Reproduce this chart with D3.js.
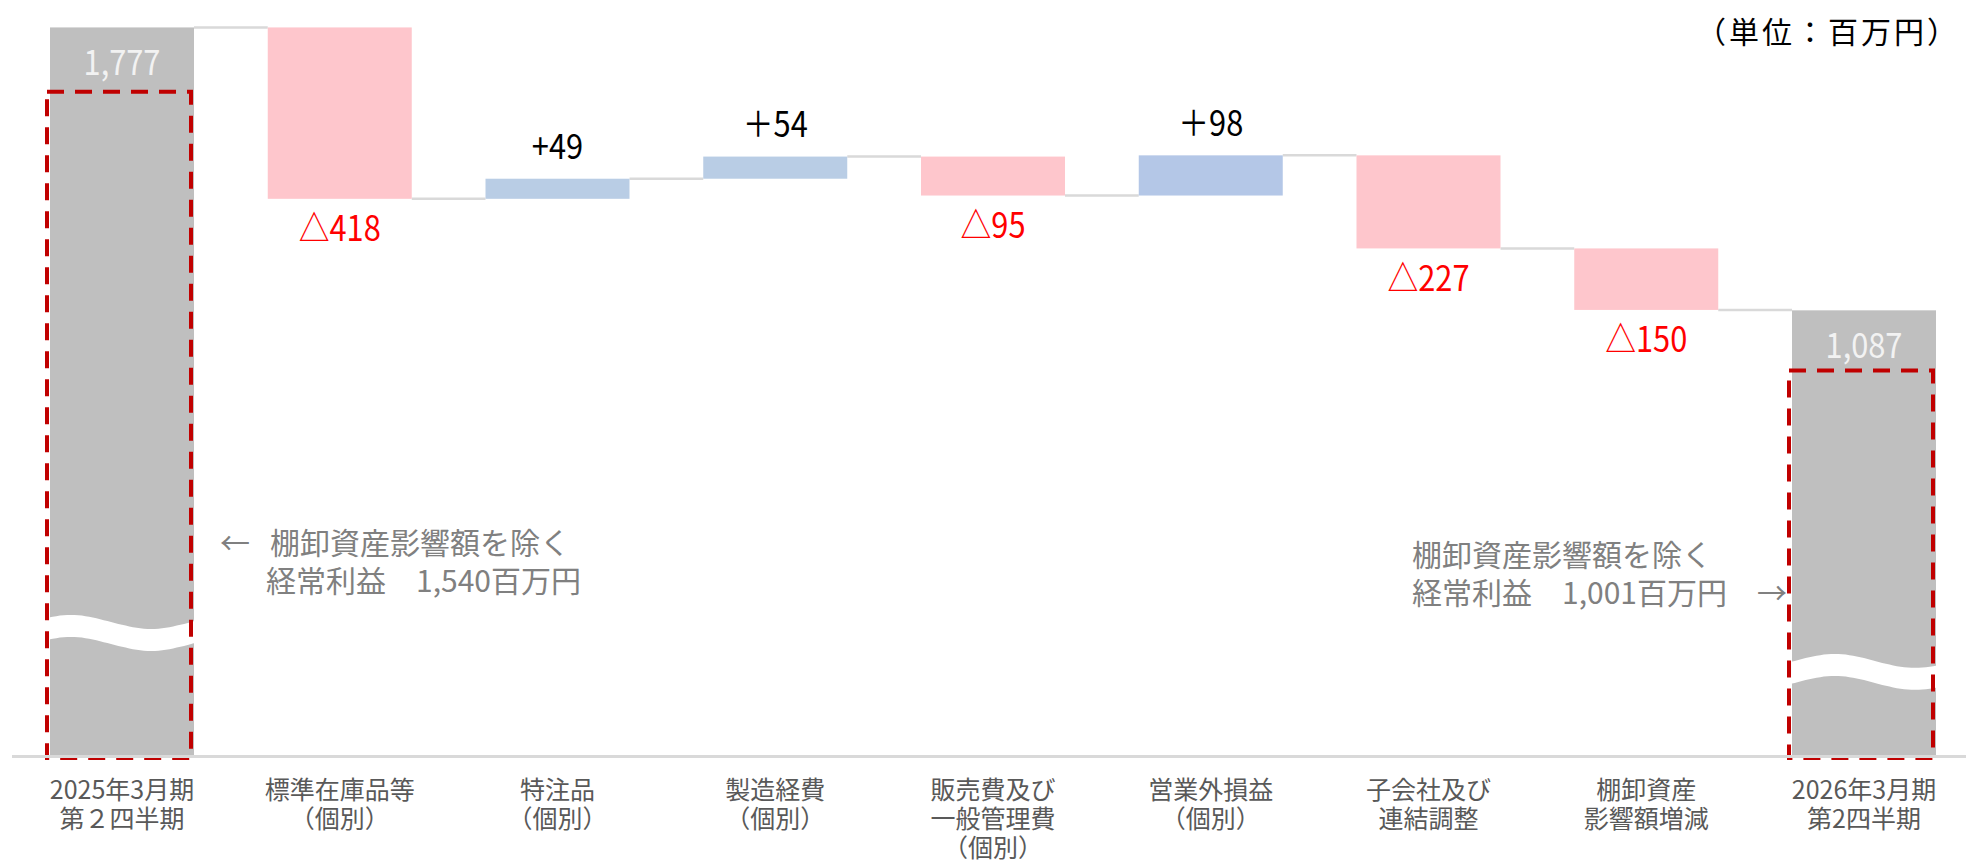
<!DOCTYPE html>
<html>
<head>
<meta charset="utf-8">
<script src="https://cdn.jsdelivr.net/npm/d3@7"></script>
<style>
  body { margin: 0; background: #fff; }
  text { font-family: "Noto Sans CJK JP", "Noto Sans", sans-serif; }
</style>
</head>
<body>
<div id="container"></div>
<script>
let categories = [
  ['2025年3月期', '第２四半期'],
  ['標準在庫品等', '（個別）'],
  ['特注品', '（個別）'],
  ['製造経費', '（個別）'],
  ['販売費及び', '一般管理費', '（個別）'],
  ['営業外損益', '（個別）'],
  ['子会社及び', '連結調整'],
  ['棚卸資産', '影響額増減'],
  ['2026年3月期', '第2四半期']
]
let values = [1777, -418, 49, 54, -95, 98, -227, -150, 1087]
let kinds = ['total', 'neg', 'pos', 'pos', 'neg', 'pos', 'neg', 'neg', 'total']
let valueLabels = ['1,777', '△418', '+49', '＋54', '△95', '＋98', '△227', '△150', '1,087']
let barColors = ['#bfbfbf', '#fec6cc', '#b9cde5', '#b9cde5', '#fec6cc', '#b4c7e7', '#fec6cc', '#fec6cc', '#bfbfbf']

// dashed frames and axis-break marks on the two totals (values in chart units)
let frameTops = [1620, 940]
let breakLevels = [300, 205]
let noteLeft = ['棚卸資産影響額を除く', '経常利益　1,540百万円']
let noteRight = ['棚卸資産影響額を除く', '経常利益　1,001百万円　→']
let unitLabel = '（単位：百万円）'

let svgWidth = 1966
let svgHeight = 866
let barWidth = 144

let svg = d3.select('#container')
  .append('svg')
  .attr('width', svgWidth)
  .attr('height', svgHeight)

let x = d3.scalePoint()
  .domain(d3.range(categories.length))
  .range([122, 1864])

let y = d3.scaleLinear()
  .domain([0, 1800])
  .range([756, 18])

// waterfall steps
let running = 0
let steps = values.map((v, i) => {
  let s, e
  if (kinds[i] === 'total') { s = 0; e = v }
  else { s = running; e = running + v }
  running = e
  return { i: i, s: s, e: e, kind: kinds[i], label: valueLabels[i] }
})

// connectors
svg.selectAll('line.conn')
  .data(steps.slice(0, -1))
  .enter()
  .append('line')
  .attr('class', 'conn')
  .attr('x1', d => x(d.i) + barWidth / 2)
  .attr('x2', d => x(d.i + 1) - barWidth / 2)
  .attr('y1', d => y(d.e))
  .attr('y2', d => y(d.e))
  .attr('stroke', '#d9d9d9')
  .attr('stroke-width', 2.5)

// bars
svg.selectAll('rect.bar')
  .data(steps)
  .enter()
  .append('rect')
  .attr('class', 'bar')
  .attr('x', d => x(d.i) - barWidth / 2)
  .attr('y', d => y(Math.max(d.s, d.e)))
  .attr('width', barWidth)
  .attr('height', d => Math.abs(y(d.s) - y(d.e)))
  .attr('fill', d => barColors[d.i])

// wavy break marks on total bars
let totals = steps.filter(d => d.kind === 'total')
let wave = (d, k) => {
  let x0 = x(d.i) - barWidth / 2 - 1
  let pts = d3.range(0, 1.0001, 0.05)
  let tmin = k === 0 ? 0.15 : 0.3
  let cy = y(breakLevels[k])
  return d3.area()
    .x(t => x0 + t * (barWidth + 2))
    .y0(t => cy - 7 * Math.cos(2 * Math.PI * (t - tmin) / 1.1) - 11)
    .y1(t => cy - 7 * Math.cos(2 * Math.PI * (t - tmin) / 1.1) + 11)
    .curve(d3.curveBasis)(pts)
}
svg.selectAll('path.wave')
  .data(totals)
  .enter()
  .append('path')
  .attr('class', 'wave')
  .attr('d', (d, k) => wave(d, k))
  .attr('fill', '#fff')

// dashed frames
svg.selectAll('rect.frame')
  .data(totals)
  .enter()
  .append('rect')
  .attr('class', 'frame')
  .attr('x', d => x(d.i) - barWidth / 2 - 3)
  .attr('y', (d, k) => y(frameTops[k]))
  .attr('width', barWidth)
  .attr('height', (d, k) => y(0) - y(frameTops[k]) + 2)
  .attr('fill', 'none')
  .attr('stroke', '#c00000')
  .attr('stroke-width', 4)
  .attr('stroke-dasharray', '17 11')

// baseline
svg.append('line')
  .attr('x1', 12)
  .attr('x2', svgWidth)
  .attr('y1', y(0) + 0.5)
  .attr('y2', y(0) + 0.5)
  .attr('stroke', '#d9d9d9')
  .attr('stroke-width', 3)

// value labels (narrow, tall digits)
svg.selectAll('text.val')
  .data(steps)
  .enter()
  .append('text')
  .attr('class', 'val')
  .attr('transform', d => {
    let ty
    if (d.kind === 'total') ty = y(d.e) + 32
    else if (d.kind === 'neg') ty = y(Math.min(d.s, d.e)) + 27
    else ty = y(Math.max(d.s, d.e)) - 35
    return 'translate(' + x(d.i) + ',' + ty + ') scale(0.88,1)'
  })
  .attr('text-anchor', 'middle')
  .attr('dominant-baseline', 'central')
  .attr('font-size', 35)
  .attr('fill', d => d.kind === 'total' ? '#f2f2f2' : d.kind === 'neg' ? '#ff0000' : '#000')
  .text(d => d.label)

// category labels
let cat = svg.selectAll('text.cat')
  .data(categories)
  .enter()
  .append('text')
  .attr('class', 'cat')
  .attr('text-anchor', 'middle')
  .attr('font-size', 25)
  .attr('fill', '#595959')
cat.selectAll('tspan')
  .data((d, i) => d.map(t => ({ t: t, i: i })))
  .enter()
  .append('tspan')
  .attr('x', d => x(d.i))
  .attr('y', (d, j) => 788 + j * 29)
  .attr('dominant-baseline', 'central')
  .text(d => d.t)

// notes
let leftX = x(0) + barWidth / 2 + 76
svg.append('text')
  .attr('x', leftX - 20)
  .attr('y', 541)
  .attr('text-anchor', 'end')
  .attr('dominant-baseline', 'central')
  .attr('font-size', 30)
  .attr('fill', '#808080')
  .text('←')
svg.selectAll('text.noteL')
  .data(noteLeft)
  .enter()
  .append('text')
  .attr('class', 'noteL')
  .attr('x', (d, j) => leftX - j * 4)
  .attr('y', (d, j) => 541 + j * 38)
  .attr('dominant-baseline', 'central')
  .attr('font-size', 30)
  .attr('fill', '#808080')
  .text(d => d)

let rightX = x(8) - barWidth / 2 - 380
svg.selectAll('text.noteR')
  .data(noteRight)
  .enter()
  .append('text')
  .attr('class', 'noteR')
  .attr('x', rightX)
  .attr('y', (d, j) => 553 + j * 38)
  .attr('dominant-baseline', 'central')
  .attr('font-size', 30)
  .attr('fill', '#808080')
  .text(d => d)

// unit
svg.append('text')
  .attr('x', 1960)
  .attr('y', 30)
  .attr('text-anchor', 'end')
  .attr('dominant-baseline', 'central')
  .attr('font-size', 30)
  .attr('letter-spacing', 3)
  .attr('fill', '#000')
  .text(unitLabel)
</script>
</body>
</html>
